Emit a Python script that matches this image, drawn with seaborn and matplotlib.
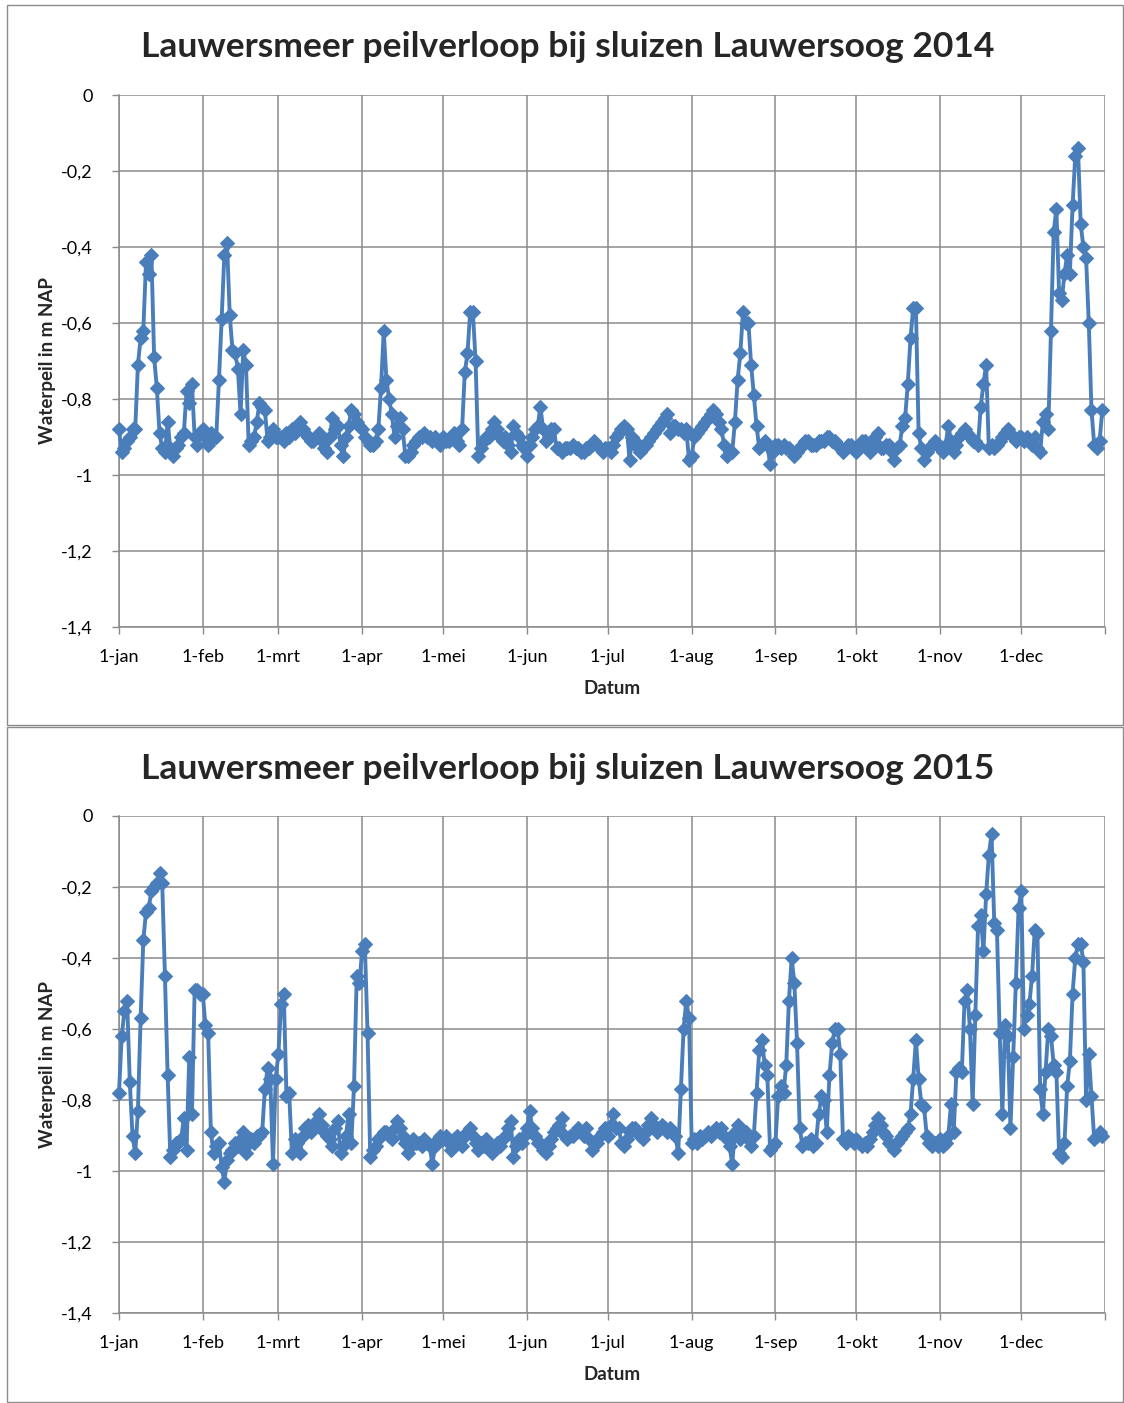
import numpy as np
import pandas as pd
import matplotlib
matplotlib.use('Agg')
import matplotlib.pyplot as plt
import seaborn as sns
from matplotlib.patches import Rectangle

# --- data (1 waarde per dag) ---
month_starts = [0, 31, 59, 90, 120, 151, 181, 212, 243, 273, 304, 334]
month_labels = ["1-jan", "1-feb", "1-mrt", "1-apr", "1-mei", "1-jun",
                "1-jul", "1-aug", "1-sep", "1-okt", "1-nov", "1-dec"]
y_ticks = [0, -0.2, -0.4, -0.6, -0.8, -1.0, -1.2, -1.4]
y_tick_labels = ["0", "-0,2", "-0,4", "-0,6", "-0,8", "-1", "-1,2", "-1,4"]

peil_2014 = [
    # jan
    -0.88, -0.94, -0.93, -0.91, -0.90, -0.88, -0.88, -0.71, -0.64, -0.62, -0.44, -0.47, -0.42, -0.69, -0.77, -0.89,
    -0.93, -0.94, -0.86, -0.93, -0.95, -0.93, -0.92, -0.90, -0.89, -0.78, -0.81, -0.76, -0.90, -0.92, -0.89,
    # feb
    -0.88, -0.90, -0.92, -0.89, -0.90, -0.90, -0.75, -0.59, -0.42, -0.39, -0.58, -0.67, -0.68, -0.72,
    -0.84, -0.67, -0.71, -0.92, -0.91, -0.90, -0.86, -0.81, -0.82, -0.83, -0.91, -0.90, -0.88, -0.90,
    # mrt
    -0.90, -0.90, -0.91, -0.89, -0.90, -0.88, -0.89, -0.87, -0.86, -0.88, -0.89, -0.90, -0.91, -0.91, -0.90, -0.89,
    -0.91, -0.93, -0.94, -0.90, -0.85, -0.88, -0.87, -0.92, -0.95, -0.90, -0.87, -0.83, -0.84, -0.86, -0.87,
    # apr
    -0.88, -0.90, -0.91, -0.92, -0.92, -0.91, -0.88, -0.77, -0.62, -0.75, -0.80, -0.84, -0.90, -0.87, -0.85,
    -0.88, -0.95, -0.95, -0.94, -0.92, -0.91, -0.90, -0.90, -0.89, -0.90, -0.90, -0.91, -0.90, -0.91, -0.92,
    # mei
    -0.90, -0.91, -0.91, -0.90, -0.89, -0.91, -0.92, -0.88, -0.73, -0.68, -0.57, -0.57, -0.70, -0.95, -0.93, -0.91,
    -0.90, -0.90, -0.88, -0.86, -0.88, -0.90, -0.91, -0.90, -0.92, -0.94, -0.87, -0.89, -0.90, -0.92, -0.93,
    # jun
    -0.95, -0.92, -0.90, -0.88, -0.87, -0.82, -0.88, -0.91, -0.90, -0.88, -0.88, -0.93, -0.93, -0.94, -0.93,
    -0.93, -0.93, -0.92, -0.93, -0.93, -0.94, -0.94, -0.93, -0.93, -0.92, -0.91, -0.92, -0.93, -0.94, -0.93,
    # jul
    -0.93, -0.94, -0.92, -0.90, -0.89, -0.88, -0.87, -0.88, -0.96, -0.90, -0.91, -0.93, -0.94, -0.93, -0.92, -0.91,
    -0.90, -0.89, -0.88, -0.87, -0.86, -0.85, -0.84, -0.89, -0.87, -0.87, -0.88, -0.88, -0.89, -0.88, -0.96,
    # aug
    -0.95, -0.90, -0.89, -0.88, -0.87, -0.86, -0.85, -0.84, -0.83, -0.84, -0.86, -0.88, -0.92, -0.95, -0.94, -0.94,
    -0.86, -0.75, -0.68, -0.57, -0.60, -0.60, -0.71, -0.79, -0.87, -0.93, -0.92, -0.91, -0.92, -0.97, -0.94,
    # sep
    -0.92, -0.92, -0.93, -0.92, -0.93, -0.93, -0.94, -0.95, -0.94, -0.93, -0.92, -0.91, -0.91, -0.92, -0.92,
    -0.92, -0.91, -0.91, -0.91, -0.90, -0.90, -0.91, -0.91, -0.92, -0.93, -0.94, -0.93, -0.92, -0.92, -0.93,
    # okt
    -0.94, -0.93, -0.91, -0.91, -0.93, -0.94, -0.92, -0.90, -0.89, -0.93, -0.93, -0.92, -0.92, -0.94, -0.96, -0.93,
    -0.92, -0.87, -0.85, -0.76, -0.64, -0.56, -0.56, -0.89, -0.93, -0.96, -0.94, -0.93, -0.92, -0.91, -0.92,
    # nov
    -0.93, -0.94, -0.92, -0.87, -0.91, -0.94, -0.92, -0.90, -0.89, -0.88, -0.89, -0.90, -0.91, -0.91, -0.92,
    -0.82, -0.76, -0.71, -0.93, -0.92, -0.93, -0.92, -0.91, -0.90, -0.89, -0.88, -0.89, -0.90, -0.91, -0.90,
    # dec
    -0.90, -0.91, -0.90, -0.91, -0.92, -0.90, -0.93, -0.94, -0.86, -0.84, -0.88, -0.62, -0.36, -0.30, -0.52, -0.54,
    -0.47, -0.42, -0.47, -0.29, -0.16, -0.14, -0.34, -0.40, -0.43, -0.60, -0.83, -0.92, -0.93, -0.91, -0.83,
]

peil_2015 = [
    # jan
    -0.78, -0.62, -0.55, -0.52, -0.75, -0.90, -0.95, -0.83, -0.57, -0.35, -0.27, -0.26, -0.21, -0.20, -0.19, -0.16,
    -0.19, -0.45, -0.73, -0.96, -0.94, -0.92, -0.92, -0.91, -0.85, -0.94, -0.68, -0.84, -0.49, -0.49, -0.50,
    # feb
    -0.50, -0.59, -0.61, -0.89, -0.95, -0.93, -0.92, -0.99, -1.03, -0.97, -0.95, -0.94, -0.92, -0.93,
    -0.91, -0.89, -0.95, -0.92, -0.91, -0.92, -0.90, -0.90, -0.89, -0.77, -0.71, -0.74, -0.98, -0.74,
    # mrt
    -0.67, -0.53, -0.50, -0.79, -0.78, -0.95, -0.91, -0.92, -0.95, -0.90, -0.88, -0.87, -0.89, -0.88, -0.86, -0.84,
    -0.87, -0.89, -0.90, -0.91, -0.93, -0.88, -0.86, -0.95, -0.93, -0.90, -0.84, -0.92, -0.76, -0.45, -0.47,
    # apr
    -0.38, -0.36, -0.61, -0.96, -0.94, -0.93, -0.91, -0.90, -0.89, -0.89, -0.90, -0.91, -0.88, -0.86, -0.88,
    -0.90, -0.92, -0.95, -0.93, -0.91, -0.92, -0.92, -0.93, -0.91, -0.92, -0.93, -0.98, -0.93, -0.91, -0.90,
    # mei
    -0.91, -0.90, -0.92, -0.94, -0.91, -0.90, -0.92, -0.93, -0.90, -0.89, -0.88, -0.90, -0.92, -0.94, -0.92, -0.93,
    -0.91, -0.93, -0.95, -0.93, -0.92, -0.93, -0.91, -0.90, -0.88, -0.86, -0.96, -0.93, -0.91, -0.92, -0.90,
    # jun
    -0.88, -0.83, -0.88, -0.90, -0.92, -0.92, -0.94, -0.95, -0.93, -0.91, -0.89, -0.88, -0.87, -0.85, -0.90,
    -0.91, -0.90, -0.90, -0.89, -0.88, -0.89, -0.90, -0.88, -0.91, -0.94, -0.92, -0.92, -0.90, -0.89, -0.88,
    # jul
    -0.90, -0.87, -0.84, -0.88, -0.88, -0.92, -0.93, -0.91, -0.89, -0.88, -0.88, -0.89, -0.90, -0.91, -0.89, -0.87,
    -0.85, -0.87, -0.89, -0.88, -0.87, -0.88, -0.89, -0.88, -0.89, -0.90, -0.95, -0.77, -0.60, -0.52, -0.57,
    # aug
    -0.92, -0.91, -0.92, -0.90, -0.91, -0.90, -0.89, -0.90, -0.89, -0.88, -0.89, -0.88, -0.90, -0.91, -0.93, -0.98,
    -0.89, -0.87, -0.91, -0.90, -0.89, -0.91, -0.93, -0.90, -0.78, -0.66, -0.63, -0.70, -0.73, -0.94, -0.93,
    # sep
    -0.92, -0.79, -0.76, -0.78, -0.70, -0.52, -0.40, -0.47, -0.64, -0.88, -0.93, -0.92, -0.92, -0.91, -0.93,
    -0.92, -0.84, -0.79, -0.80, -0.89, -0.73, -0.64, -0.60, -0.60, -0.67, -0.91, -0.92, -0.90, -0.91, -0.92,
    # okt
    -0.91, -0.92, -0.93, -0.92, -0.93, -0.91, -0.89, -0.87, -0.85, -0.87, -0.89, -0.90, -0.92, -0.93, -0.94, -0.92,
    -0.91, -0.90, -0.89, -0.88, -0.84, -0.74, -0.63, -0.74, -0.81, -0.82, -0.90, -0.92, -0.93, -0.92, -0.93,
    # nov
    -0.91, -0.93, -0.92, -0.90, -0.81, -0.89, -0.72, -0.71, -0.72, -0.52, -0.49, -0.60, -0.81, -0.56, -0.31,
    -0.28, -0.38, -0.22, -0.11, -0.05, -0.30, -0.32, -0.61, -0.84, -0.59, -0.62, -0.88, -0.68, -0.47, -0.26,
    # dec
    -0.21, -0.60, -0.56, -0.53, -0.45, -0.32, -0.33, -0.77, -0.84, -0.72, -0.60, -0.62, -0.70, -0.72, -0.95, -0.96,
    -0.92, -0.76, -0.69, -0.50, -0.40, -0.36, -0.36, -0.41, -0.80, -0.67, -0.79, -0.91, -0.90, -0.89, -0.90,
]

titles = ["Lauwersmeer peilverloop bij sluizen Lauwersoog 2014",
          "Lauwersmeer peilverloop bij sluizen Lauwersoog 2015"]

# --- opmaak ---
sns.set_theme(style="white")
plt.rcParams['font.family'] = ['Lato', 'DejaVu Sans']

W, H = 1124, 1403
line_color = "#4a7ebb"
grid_color = "#8a8a8a"

fig = plt.figure(figsize=(W / 100, H / 100), dpi=100)

# chart-kaders (pixels: links, boven, rechts, onder)
for (l, t, r, b) in [(7, 5, 1123, 725), (7, 727, 1123, 1402)]:
    fig.add_artist(Rectangle((l / W, 1 - b / H), (r - l) / W, (b - t) / H,
                             transform=fig.transFigure, fill=False,
                             edgecolor="#8c8c8c", linewidth=1.0))

# plotgebieden (pixels: boven, onder), titelhoogte, afstand as-label
panels = [(95, 627, 47, 61, peil_2014, titles[0]),
          (816, 1313, 769, 62, peil_2015, titles[1])]

for top, bottom, title_y, xlab_off, values, title in panels:
    ax = fig.add_axes([119 / W, 1 - bottom / H, (1105 - 119) / W, (bottom - top) / H])
    df = pd.DataFrame({"dag": np.arange(len(values)), "peil": values})
    sns.lineplot(data=df, x="dag", y="peil", ax=ax, color=line_color,
                 linewidth=2.8, marker="D", markersize=7,
                 markeredgecolor=line_color, markeredgewidth=0.8,
                 clip_on=False, zorder=3)

    ax.set_xlim(0, 365)
    ax.set_ylim(-1.4, 0)
    ax.set_xticks(month_starts + [365])
    ax.set_xticklabels(month_labels + [""])
    ax.set_yticks(y_ticks)
    ax.set_yticklabels(y_tick_labels)

    ax.grid(True, color=grid_color, linewidth=1.1)
    ax.set_axisbelow(True)
    for side in ["top", "right"]:
        ax.spines[side].set_visible(False)
    for side in ["left", "bottom"]:
        ax.spines[side].set_color(grid_color)
        ax.spines[side].set_linewidth(1.1)

    ax.tick_params(axis="both", direction="out", length=5, width=1.0,
                   color=grid_color, labelsize=13, labelcolor="black",
                   bottom=True, left=True)
    ax.tick_params(axis="x", pad=11)
    ax.tick_params(axis="y", pad=14)

    ax.set_xlabel("Datum", fontsize=13.5, fontweight="bold")
    ax.set_ylabel("Waterpeil in m NAP", fontsize=13.5, fontweight="bold")
    ax.xaxis.set_label_coords(0.5, -xlab_off / (bottom - top))
    ax.yaxis.set_label_coords(-(119 - 48) / (1105 - 119), 0.5)
    ax.xaxis.label.set_va("center")
    ax.yaxis.label.set_va("center")

    fig.text(568 / W, 1 - title_y / H, title, ha="center", va="center",
             fontsize=25.5, fontweight="bold")

fig.savefig("out.png", dpi=100)
